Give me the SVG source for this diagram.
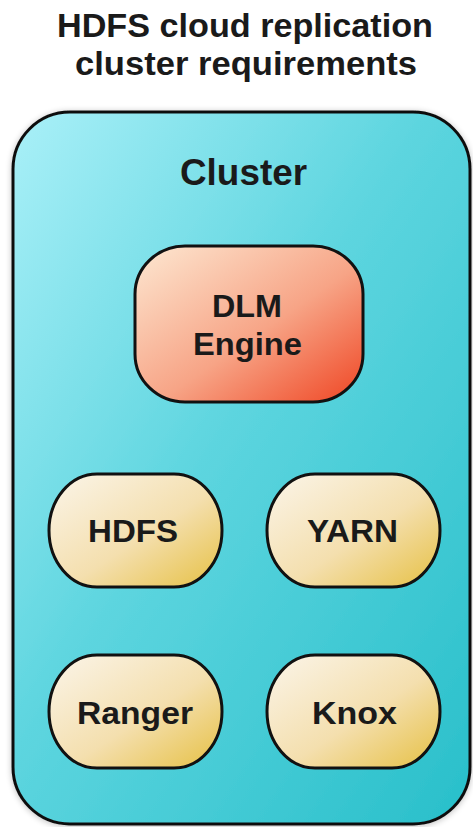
<svg xmlns="http://www.w3.org/2000/svg" width="473" height="827" viewBox="0 0 473 827">
<defs>
<linearGradient id="gCluster" x1="0" y1="0" x2="1" y2="1">
<stop offset="0" stop-color="#aaf0f8"/>
<stop offset="0.45" stop-color="#5dd5df"/>
<stop offset="1" stop-color="#28bfca"/>
</linearGradient>
<linearGradient id="gDlm" x1="0" y1="0" x2="1" y2="1">
<stop offset="0" stop-color="#fde8d2"/>
<stop offset="0.55" stop-color="#f7a486"/>
<stop offset="1" stop-color="#ef4523"/>
</linearGradient>
<linearGradient id="gSvc" x1="0" y1="0" x2="1" y2="1">
<stop offset="0" stop-color="#fbf5ea"/>
<stop offset="0.55" stop-color="#f4dfae"/>
<stop offset="1" stop-color="#e6c043"/>
</linearGradient>
<filter id="sh" x="-10%" y="-10%" width="120%" height="120%">
<feGaussianBlur in="SourceAlpha" stdDeviation="3"/>
<feOffset dx="0" dy="1"/>
<feComponentTransfer><feFuncA type="linear" slope="0.25"/></feComponentTransfer>
<feMerge><feMergeNode/><feMergeNode in="SourceGraphic"/></feMerge>
</filter>
</defs>
<style>
text{font-family:"Liberation Sans",Arial,sans-serif;font-weight:bold;fill:#1a1a1a;text-anchor:middle}
.t{font-size:33px}
.c{font-size:36px}
.n{font-size:32px}
.b{stroke:#111;stroke-width:3}
.p{rx:48px;ry:56.5px}
</style>
<rect width="473" height="827" fill="#ffffff"/>
<g id="title">
<text class="t" x="245" y="37" textLength="376" lengthAdjust="spacingAndGlyphs">HDFS cloud replication</text>
<text class="t" x="246" y="75" textLength="342" lengthAdjust="spacingAndGlyphs">cluster requirements</text>
</g>
<g id="cluster">
<rect class="b" x="13" y="112" width="457" height="712" rx="57" ry="57" fill="url(#gCluster)" filter="url(#sh)"/>
<text class="c" x="243.5" y="185" textLength="127" lengthAdjust="spacingAndGlyphs">Cluster</text>
</g>
<g id="connectors"></g>
<g id="dlm">
<rect class="b" x="135" y="246" width="228" height="156" rx="50" ry="48" fill="url(#gDlm)"/>
<text class="n" x="247" y="317" textLength="70" lengthAdjust="spacingAndGlyphs">DLM</text>
<text class="n" x="247.5" y="355" textLength="109" lengthAdjust="spacingAndGlyphs">Engine</text>
</g>
<g id="hdfs">
<rect class="b" x="49" y="474" width="173" height="113" rx="48" ry="56.5" fill="url(#gSvc)"/>
<text class="n" x="133" y="542" textLength="90" lengthAdjust="spacingAndGlyphs">HDFS</text>
</g>
<g id="yarn">
<rect class="b" x="267" y="474" width="173" height="113" rx="48" ry="56.5" fill="url(#gSvc)"/>
<text class="n" x="352.5" y="542" textLength="91" lengthAdjust="spacingAndGlyphs">YARN</text>
</g>
<g id="ranger">
<rect class="b" x="49" y="655" width="173" height="113" rx="48" ry="56.5" fill="url(#gSvc)"/>
<text class="n" x="135" y="724" textLength="116" lengthAdjust="spacingAndGlyphs">Ranger</text>
</g>
<g id="knox">
<rect class="b" x="267" y="655" width="173" height="113" rx="48" ry="56.5" fill="url(#gSvc)"/>
<text class="n" x="354.5" y="724" textLength="85" lengthAdjust="spacingAndGlyphs">Knox</text>
</g>
</svg>
